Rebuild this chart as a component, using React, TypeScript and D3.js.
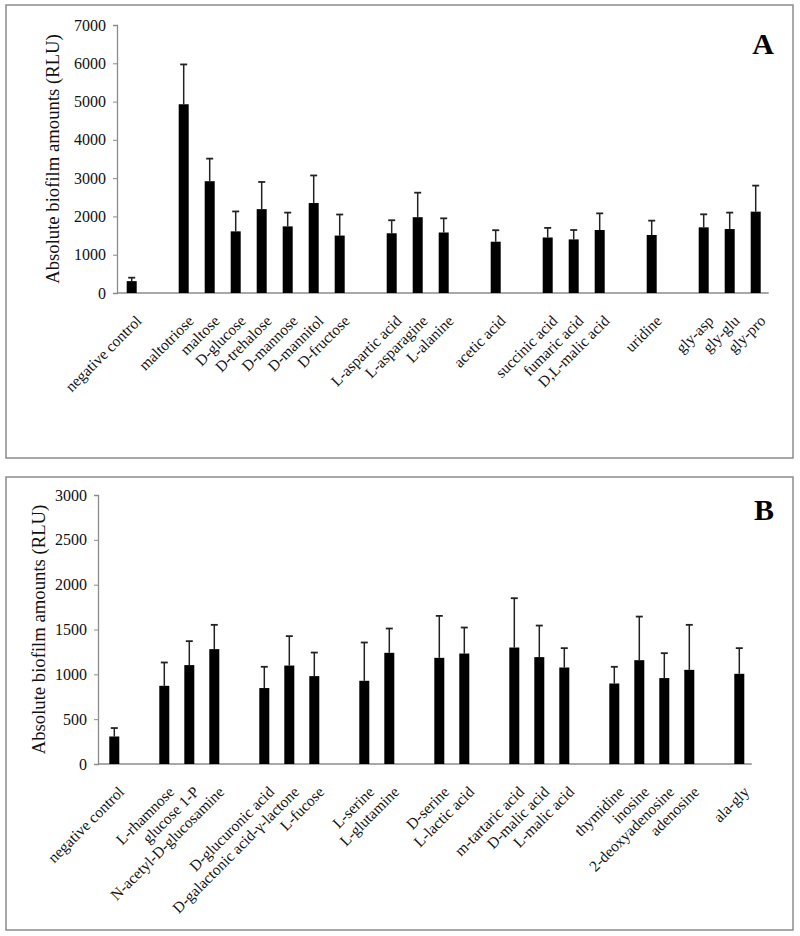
import React, { useEffect, useRef } from 'react'
import * as d3 from 'd3'

// panel A: groups of substrates (one empty slot between groups)
const groupsA = [
	['negative control'],
	['maltotriose', 'maltose', 'D-glucose', 'D-trehalose', 'D-mannose', 'D-mannitol', 'D-fructose'],
	['L-aspartic acid', 'L-asparagine', 'L-alanine'],
	['acetic acid'],
	['succinic acid', 'fumaric acid', 'D,L-malic acid'],
	['uridine'],
	['gly-asp', 'gly-glu', 'gly-pro'],
]
const valuesA = [310, 4930, 2920, 1610, 2190, 1740, 2350, 1500, 1560, 1980, 1580, 1340, 1450, 1400, 1645, 1515, 1715, 1670, 2125]
const errorsA = [90, 1040, 590, 520, 710, 360, 720, 550, 340, 640, 370, 300, 250, 245, 435, 375, 340, 430, 680]
const ticksA = [0, 1000, 2000, 3000, 4000, 5000, 6000, 7000]

// panel B
const groupsB = [
	['negative control'],
	['L-rhamnose', 'glucose 1-P', 'N-acetyl-D-glucosamine'],
	['D-glucuronic acid', 'D-galactonic acid-\u03b3-lactone', 'L-fucose'],
	['L-serine', 'L-glutamine'],
	['D-serine', 'L-lactic acid'],
	['m-tartaric acid', 'D-malic acid', 'L-malic acid'],
	['thymidine', 'inosine', '2-deoxyadenosine', 'adenosine'],
	['ala-gly'],
]
const valuesB = [307, 872, 1103, 1281, 847, 1098, 980, 928, 1240, 1184, 1232, 1299, 1192, 1076, 898, 1158, 958, 1050, 1006]
const errorsB = [94, 260, 267, 271, 237, 328, 263, 427, 271, 468, 290, 550, 352, 216, 186, 486, 278, 502, 286]
const ticksB = [0, 500, 1000, 1500, 2000, 2500, 3000]

const yLabel = 'Absolute biofilm amounts (RLU)'
const FONT = '"Liberation Serif", "Times New Roman", serif'

function drawPanel(svg, cfg) {
	const { box, axisX, top, bottom, bandStart, bandStep, groups, values, errors, ticks, letter, yLabelX } = cfg

	// slots with gaps between groups
	const slots = []
	groups.forEach((g, i) => {
		if (i > 0) slots.push('__gap' + i)
		g.forEach((c) => slots.push(c))
	})
	const cats = groups.flat()
	const data = cats.map((c, i) => ({ name: c, value: values[i], err: errors[i] }))

	const g = svg.append('g')

	g.append('rect')
		.attr('x', box[0])
		.attr('y', box[1])
		.attr('width', box[2])
		.attr('height', box[3])
		.attr('fill', '#fff')
		.attr('stroke', '#8c8c8c')
		.attr('stroke-width', 1.5)

	const xScale = d3
		.scaleBand()
		.domain(slots)
		.range([bandStart, bandStart + bandStep * slots.length])
	const yScale = d3.scaleLinear().domain([0, ticks[ticks.length - 1]]).range([bottom, top])
	const cx = (d) => xScale(d.name) + xScale.bandwidth() / 2
	const barW = 10

	// y axis
	const yAxis = g
		.append('g')
		.attr('transform', `translate(${axisX},0)`)
		.call(d3.axisLeft(yScale).tickValues(ticks).tickSize(4).tickPadding(7).tickFormat(d3.format('d')))
	yAxis.select('.domain').attr('stroke', '#8c8c8c').attr('stroke-width', 1.3)
	yAxis.selectAll('.tick line').attr('stroke', '#8c8c8c')
	yAxis.selectAll('.tick text').attr('font-family', FONT).attr('font-size', 16).attr('fill', '#111')

	// x axis line
	g.append('line')
		.attr('x1', axisX)
		.attr('x2', bandStart + bandStep * slots.length)
		.attr('y1', bottom)
		.attr('y2', bottom)
		.attr('stroke', '#8c8c8c')
		.attr('stroke-width', 1.3)

	const bars = g.selectAll('.bar').data(data).enter().append('g')

	bars.append('line')
		.attr('x1', cx)
		.attr('x2', cx)
		.attr('y1', (d) => yScale(d.value))
		.attr('y2', (d) => yScale(d.value + d.err))
		.attr('stroke', '#222')
		.attr('stroke-width', 1.5)
	bars.append('line')
		.attr('x1', (d) => cx(d) - 3.5)
		.attr('x2', (d) => cx(d) + 3.5)
		.attr('y1', (d) => yScale(d.value + d.err))
		.attr('y2', (d) => yScale(d.value + d.err))
		.attr('stroke', '#222')
		.attr('stroke-width', 1.8)
	bars.append('rect')
		.attr('x', (d) => cx(d) - barW / 2)
		.attr('y', (d) => yScale(d.value))
		.attr('width', barW)
		.attr('height', (d) => bottom - yScale(d.value))
		.attr('fill', '#000')

	bars.append('text')
		.attr('transform', (d) => `translate(${cx(d) + 7},${bottom + 25}) rotate(-45)`)
		.attr('text-anchor', 'end')
		.attr('dy', '0.35em')
		.attr('font-family', FONT)
		.attr('font-size', 15.5)
		.attr('fill', '#111')
		.text((d) => d.name)

	g.append('text')
		.attr('transform', `translate(${yLabelX},${(top + bottom) / 2}) rotate(-90)`)
		.attr('text-anchor', 'middle')
		.attr('font-family', FONT)
		.attr('font-size', 18.7)
		.attr('fill', '#111')
		.text(yLabel)

	g.append('text')
		.attr('x', 774)
		.attr('y', cfg.letterY)
		.attr('text-anchor', 'end')
		.attr('font-family', FONT)
		.attr('font-weight', 'bold')
		.attr('font-size', 30)
		.text(letter)
}

export default function App() {
	const ref = useRef(null)

	useEffect(() => {
		const svg = d3.select(ref.current)
		svg.selectAll('*').remove()
		drawPanel(svg, {
			box: [6, 5, 787, 453],
			axisX: 117,
			top: 25,
			bottom: 293,
			bandStart: 118.7,
			bandStep: 26,
			groups: groupsA,
			values: valuesA,
			errors: errorsA,
			ticks: ticksA,
			letter: 'A',
			letterY: 54,
			yLabelX: 59,
		})
		drawPanel(svg, {
			box: [6, 477, 787, 453],
			axisX: 98,
			top: 495,
			bottom: 764,
			bandStart: 101.8,
			bandStep: 25,
			groups: groupsB,
			values: valuesB,
			errors: errorsB,
			ticks: ticksB,
			letter: 'B',
			letterY: 520,
			yLabelX: 45,
		})
	}, [])

	return (
		<div style={{ position: 'absolute', left: 0, top: 0 }}>
			<svg ref={ref} width={800} height={936} style={{ display: 'block', background: '#fff' }} />
		</div>
	)
}
